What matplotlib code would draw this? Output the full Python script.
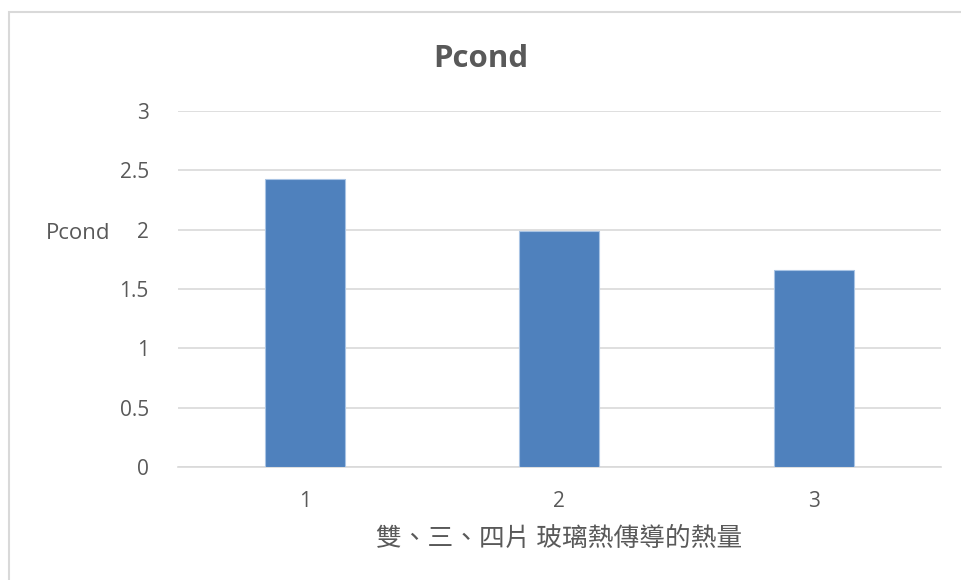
import matplotlib.pyplot as plt
from matplotlib.patches import Rectangle

# Pcond 數據：雙、三、四片玻璃
categories = ["1", "2", "3"]
pcond = [2.43, 1.99, 1.66]
yticks = [0, 0.5, 1, 1.5, 2, 2.5, 3]
ytick_labels = ["0", "0.5", "1", "1.5", "2", "2.5", "3"]

TEXT = "#595959"
GRID = "#D9D9D9"
BAR = "#4F81BD"

plt.rcParams['font.family'] = ['Open Sans', 'Noto Sans CJK TC', 'DejaVu Sans']

fig = plt.figure(figsize=(9.62, 5.8), dpi=100)
ax = fig.add_axes([0.185, 0.1948, 0.793, 0.6138])

x = range(len(categories))
ax.bar(x, pcond, width=0.315, color=BAR, edgecolor="#A9C4E4", linewidth=0.8, zorder=3)

ax.set_xlim(-0.5, len(categories) - 0.5)
ax.set_ylim(0, 3)
ax.set_yticks(yticks)
ax.set_yticklabels(ytick_labels)
ax.set_xticks(list(x))
ax.set_xticklabels(categories)
ax.tick_params(axis="both", length=0, labelsize=15, colors=TEXT)
ax.tick_params(axis="y", pad=21)
ax.tick_params(axis="x", pad=17)

ax.grid(axis="y", color=GRID, linewidth=1.2, zorder=0)
for side in ["top", "right", "left"]:
    ax.spines[side].set_visible(False)
ax.spines["bottom"].set_color(GRID)
ax.spines["bottom"].set_linewidth(1.2)

ax.set_ylabel("Pcond", rotation=0, fontsize=16, color=TEXT, va="center", ha="left")
ax.yaxis.set_label_coords(-0.173, 0.656)
ax.set_xlabel("雙、三、四片 玻璃熱傳導的熱量", fontsize=18.5, color=TEXT,
              family=['Noto Sans CJK TC', 'DejaVu Sans'], fontweight="light",
              labelpad=10)

fig.text(0.5, 0.898, "Pcond", ha="center", va="center", fontsize=22.5,
         fontweight="bold", color=TEXT)

# 圖表外框（左、上）
fig.patches.append(Rectangle((9, -20), 1000, 588, transform=None,
                             fill=False, edgecolor=GRID, linewidth=1.5))

fig.savefig("out.png", dpi=100, facecolor="white")
